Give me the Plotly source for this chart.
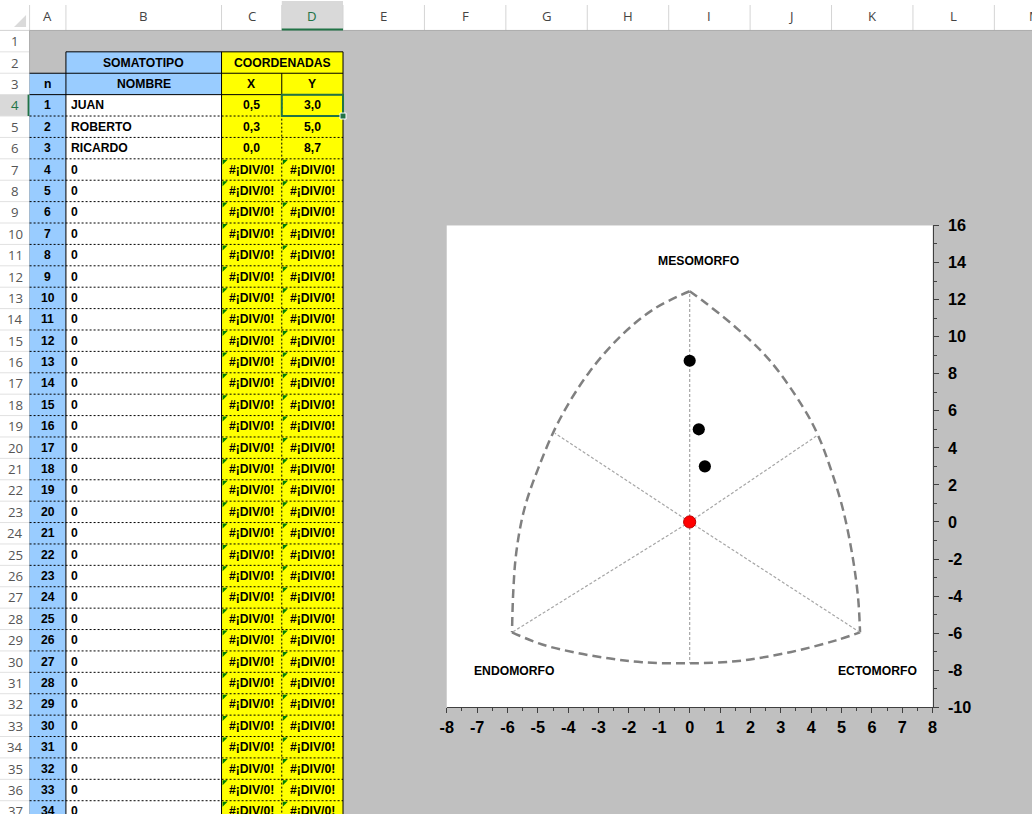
"""
Hoja de somatotipo (Excel) con su somatocarta, recreada con Plotly.
"""

import plotly.graph_objects as go

# ---------------------------------------------------------------- datos
NOMBRES = ["JUAN", "ROBERTO", "RICARDO"]
X_SOMATO = [0.5, 0.3, 0.0]
Y_SOMATO = [3.0, 5.0, 8.7]
N_FILAS = 34          # filas visibles de la tabla (n = 1..34)
ERROR = "#¡DIV/0!"

# contorno de la somatocarta
ARCO_IZQ_X = [0.0, -1.14, -2.24, -3.33, -4.29, -4.98, -5.45, -5.71, -5.81, -5.85]
ARCO_IZQ_Y = [12.45, 11.53, 10.08, 8.03, 5.5, 2.92, 0.66, -1.65, -3.8, -5.96]
ARCO_DER_X = [0.0, 0.41, 1.51, 2.63, 3.73, 4.22, 4.62, 5.05, 5.38, 5.55, 5.61]
ARCO_DER_Y = [12.45, 11.96, 10.51, 8.73, 6.2, 4.7, 2.98, 0.66, -2.03, -4.18, -5.96]
ARCO_INF_X = [-5.85, -4.88, -3.79, -2.67, -1.57, 0.0, 1.51, 2.63, 3.73, 4.82, 5.61]
ARCO_INF_Y = [-5.96, -6.6, -7.04, -7.36, -7.57, -7.63, -7.52, -7.25, -6.87, -6.39, -5.96]

# ejes punteados desde el centro
RADIOS_X = [0.0, -5.85, 5.61, 0.0, -4.44, 4.23]
RADIOS_Y = [12.45, -5.96, -5.96, -7.63, 4.79, 4.70]

ETIQUETAS = ["MESOMORFO", "ENDOMORFO", "ECTOMORFO"]
ETIQ_X = [0.3, -5.79, 6.18]
ETIQ_Y = [14.1, -8.06, -8.06]

TICKS_X = list(range(-8, 9))
TICKS_Y = list(range(-10, 17, 2))

COLUMNAS = ["A", "B", "C", "D", "E", "F", "G", "H", "I", "J", "K", "L", "M"]

# ---------------------------------------------------------------- estilo
W, H = 1032, 814
# la captura muestra la ventana reducida dentro de un marco de 8 px;
# las posiciones (en píxeles de la captura) se convierten con este marco
MARCO = 8
ESC = (W - 2 * MARCO) / W
K = 1 / ESC
GRIS = "#C0C0C0"
AZUL = "#99CCFF"
AMARILLO = "#FFFF00"
VERDE = "#217346"
FUENTE = "Liberation Sans, Arial, sans-serif"
FUENTE_HOJA = "Open Sans, Noto Sans, sans-serif"

# bordes de columnas y filas de la hoja, en píxeles
BORDES_COL = [0, 30.5, 66.7, 221.7, 281.7, 342.7]
for _ in range(9):
    BORDES_COL.append(BORDES_COL[-1] + 81.1)
ALTO_CAB = 29.5
ALTO_FILA = 21.45


def px(x):
    return (x - MARCO) / (W - 2 * MARCO)


def py(y):
    return 1 - (y - MARCO) / (H - 2 * MARCO)


def fila_top(r):
    return ALTO_CAB + (r - 1) * ALTO_FILA


def fmt(v):
    return f"{v:.1f}".replace(".", ",")


shapes = []
annotations = []


def rect(x0, y0, x1, y1, fill, line_color=None, line_width=0):
    shapes.append(dict(
        type="rect", xref="paper", yref="paper",
        x0=px(x0), x1=px(x1), y0=py(y1), y1=py(y0),
        fillcolor=fill, layer="below",
        line=dict(color=line_color or fill, width=line_width),
    ))


def linea(x0, y0, x1, y1, color="black", width=1, dash="solid"):
    shapes.append(dict(
        type="line", xref="paper", yref="paper",
        x0=px(x0), x1=px(x1), y0=py(y0), y1=py(y1),
        layer="below", line=dict(color=color, width=width, dash=dash),
    ))


def texto(x, y, txt, anchor="center", size=12, color="black", bold=True, family=FUENTE):
    annotations.append(dict(
        xref="paper", yref="paper", x=px(x), y=py(y), text=txt,
        xanchor=anchor, yanchor="middle", showarrow=False,
        font=dict(family=family, size=size * K, color=color,
                  weight="bold" if bold else "normal"),
    ))


# ---------------------------------------------------------------- cabeceras de Excel
rect(-20, -20, W + 20, ALTO_CAB, "white")
rect(BORDES_COL[4], 0, BORDES_COL[5], ALTO_CAB, "#D9D9D9")
for i, letra in enumerate(COLUMNAS):
    x0, x1 = BORDES_COL[i + 1], BORDES_COL[i + 2]
    linea(x1, 4, x1, ALTO_CAB, color="#D4D4D4")
    texto((x0 + x1) / 2, 15, letra, size=13, bold=False, family=FUENTE_HOJA,
          color=VERDE if letra == "D" else "#444444")
linea(BORDES_COL[1], 4, BORDES_COL[1], ALTO_CAB, color="#D4D4D4")
linea(-20, ALTO_CAB, W + 20, ALTO_CAB, color="#ABABAB")
linea(BORDES_COL[4], ALTO_CAB - 1, BORDES_COL[5], ALTO_CAB - 1, color=VERDE, width=2)
shapes.append(dict(
    type="path", xref="paper", yref="paper", layer="below",
    path=f"M {px(15)},{py(26)} L {px(27)},{py(26)} L {px(27)},{py(14)} Z",
    fillcolor="#DADADA", line=dict(width=0),
))

rect(-20, ALTO_CAB, BORDES_COL[1], H + 20, "white")
n_filas_hoja = N_FILAS + 3
for r in range(1, n_filas_hoja + 1):
    y0 = fila_top(r)
    if r == 4:
        rect(-20, y0, BORDES_COL[1], y0 + ALTO_FILA, "#D9D9D9")
    linea(-20, y0 + ALTO_FILA, BORDES_COL[1], y0 + ALTO_FILA, color="#E1E1E1")
    texto(16, y0 + ALTO_FILA / 2, str(r), size=13, bold=False, family=FUENTE_HOJA,
          color=VERDE if r == 4 else "#555555")
linea(BORDES_COL[1], ALTO_CAB, BORDES_COL[1], H + 20, color="#ABABAB")
linea(BORDES_COL[1] - 1, fila_top(4), BORDES_COL[1] - 1, fila_top(5), color=VERDE, width=2)

# ---------------------------------------------------------------- tabla
xa, xb, xc, xd, xe = BORDES_COL[1:6]
y2, y3, y4 = fila_top(2), fila_top(3), fila_top(4)
y_fin = fila_top(n_filas_hoja + 1) + 20

rect(xb, y2, xc, y4, AZUL)
rect(xa, y3, xb, y4, AZUL)
rect(xc, y2, xe, y4, AMARILLO)
rect(xa, y4, xb, y_fin, AZUL)
rect(xb, y4, xc, y_fin, "white")
rect(xc, y4, xe, y_fin, AMARILLO)

texto((xb + xc) / 2, y2 + ALTO_FILA / 2, "SOMATOTIPO")
texto((xc + xe) / 2, y2 + ALTO_FILA / 2, "COORDENADAS")
texto((xa + xb) / 2, y3 + ALTO_FILA / 2, "n")
texto((xb + xc) / 2, y3 + ALTO_FILA / 2, "NOMBRE")
texto((xc + xd) / 2, y3 + ALTO_FILA / 2, "X")
texto((xd + xe) / 2, y3 + ALTO_FILA / 2, "Y")

for i in range(N_FILAS):
    r = i + 4
    y0 = fila_top(r)
    yc = y0 + ALTO_FILA / 2
    if i < len(NOMBRES):
        nombre, tx, ty = NOMBRES[i], fmt(X_SOMATO[i]), fmt(Y_SOMATO[i])
    else:
        nombre, tx, ty = "0", ERROR, ERROR
        for xx in (xc, xd):
            shapes.append(dict(
                type="path", xref="paper", yref="paper", layer="below",
                path=f"M {px(xx + 1)},{py(y0 + 1)} L {px(xx + 6)},{py(y0 + 1)} "
                     f"L {px(xx + 1)},{py(y0 + 6)} Z",
                fillcolor="#008000", line=dict(width=0),
            ))
    texto((xa + xb) / 2, yc, str(i + 1))
    texto(xb + 3, yc, nombre, anchor="left")
    texto((xc + xd) / 2, yc, tx)
    texto((xd + xe) / 2, yc, ty)
    if i > 0:
        linea(xa, y0, xe, y0, dash="2px,2px")

# bordes continuos
linea(xb, y2, xe, y2)
linea(xa, y3, xe, y3)
linea(xa, y4, xe, y4)
for xx in (xb, xc, xe):
    linea(xx, y2, xx, H + 20)
linea(xd, y3, xd, y4)
linea(xd, y4, xd, H + 20, dash="2px,2px")

# celda activa D4
rect(xd, y4, xe, y4 + ALTO_FILA, "rgba(0,0,0,0)", line_color=VERDE, line_width=2)
rect(xe - 3, y4 + ALTO_FILA - 3, xe + 3, y4 + ALTO_FILA + 3, VERDE,
     line_color="white", line_width=1)

# ---------------------------------------------------------------- somatocarta
fig = go.Figure()

contorno = dict(color="#808080", width=2.5, dash="9px,5px", shape="spline")
for ax, ay in ((ARCO_IZQ_X, ARCO_IZQ_Y), (ARCO_DER_X, ARCO_DER_Y), (ARCO_INF_X, ARCO_INF_Y)):
    fig.add_trace(go.Scatter(x=ax, y=ay, mode="lines", line=contorno, hoverinfo="skip"))

rx, ry = [], []
for x, y in zip(RADIOS_X, RADIOS_Y):
    rx += [0, x, None]
    ry += [0, y, None]
fig.add_trace(go.Scatter(
    x=rx, y=ry, mode="lines",
    line=dict(color="#A6A6A6", width=1.2, dash="3px,2px"), hoverinfo="skip",
))

fig.add_trace(go.Scatter(
    x=[0], y=[0], mode="markers",
    marker=dict(color="#FF0000", size=12 * K, line=dict(color="#C00000", width=1)),
))
fig.add_trace(go.Scatter(
    x=X_SOMATO, y=Y_SOMATO, mode="markers", text=NOMBRES,
    marker=dict(color="black", size=12 * K),
))

for txt, x, y in zip(ETIQUETAS, ETIQ_X, ETIQ_Y):
    annotations.append(dict(
        x=x, y=y, xref="x", yref="y", text=txt, showarrow=False,
        font=dict(family=FUENTE, size=12 * K, color="black", weight="bold"),
    ))

eje = dict(
    showgrid=False, zeroline=False, showline=True, linecolor="#404040", linewidth=1,
    ticks="outside", ticklen=5, tickcolor="#404040",
    tickfont=dict(family=FUENTE, size=16 * K, color="black", weight="bold"),
)

fig.update_layout(
    width=W, height=H, autosize=False,
    margin=dict(l=0, r=0, t=0, b=0),
    paper_bgcolor=GRIS, plot_bgcolor="white",
    showlegend=False,
    xaxis=dict(
        eje, domain=[px(446), px(930)], range=[-8, 8],
        tickvals=TICKS_X, ticktext=[str(v) for v in TICKS_X],
        minor=dict(dtick=0.5, ticks="outside", ticklen=3, tickcolor="#404040"),
    ),
    yaxis=dict(
        eje, domain=[py(708), py(225)], range=[-10, 16], side="right",
        tickvals=TICKS_Y, ticktext=[str(v) for v in TICKS_Y],
        ticklabelstandoff=6,
        minor=dict(dtick=1, ticks="outside", ticklen=3, tickcolor="#404040"),
    ),
    shapes=shapes,
    annotations=annotations,
)

# sin el margen por defecto del <body>, la figura ocupa la ventana exacta
fig.write_html(
    "out.html",
    config={"displayModeBar": False},
    post_script="document.body.style.margin='0';document.body.style.overflow='hidden';",
)
